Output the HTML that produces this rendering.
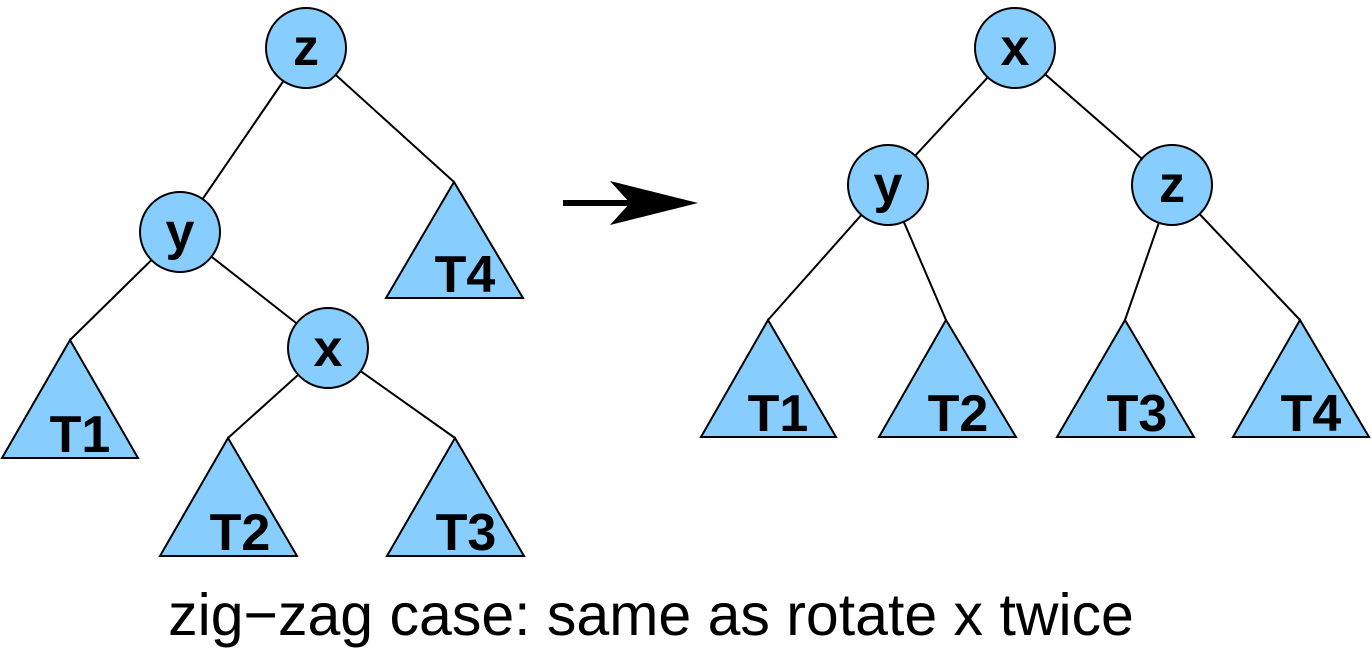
<!DOCTYPE html>
<html><head><meta charset="utf-8"><style>
html,body{margin:0;padding:0;background:#fff;}
svg{display:block;}
text{font-family:"Liberation Sans",sans-serif;}
</style></head><body>
<svg width="1372" height="656" viewBox="0 0 1372 656">
<g stroke="#000" stroke-width="2" fill="none">
<line x1="306" y1="48" x2="180" y2="232"/>
<line x1="306" y1="48" x2="454" y2="182"/>
<line x1="180" y1="232" x2="70" y2="340"/>
<line x1="180" y1="232" x2="328" y2="348"/>
<line x1="328" y1="348" x2="228" y2="438"/>
<line x1="328" y1="348" x2="455" y2="438"/>
<line x1="1015" y1="48" x2="888" y2="185"/>
<line x1="1015" y1="48" x2="1172" y2="185"/>
<line x1="888" y1="185" x2="768" y2="320"/>
<line x1="888" y1="185" x2="946" y2="320"/>
<line x1="1172" y1="185" x2="1125" y2="320"/>
<line x1="1172" y1="185" x2="1300" y2="320"/>
</g>
<g fill="#87CEFF" stroke="#000" stroke-width="2">
<circle cx="306" cy="48" r="40"/>
<circle cx="180" cy="232" r="40"/>
<circle cx="328" cy="348" r="40"/>
<circle cx="1015" cy="48" r="40"/>
<circle cx="888" cy="185" r="40"/>
<circle cx="1172" cy="185" r="40"/>
<polygon points="454,182 386,298 523,298"/>
<polygon points="70,340 2,458 138,458"/>
<polygon points="228,438 160,556 297,556"/>
<polygon points="455,438 387,556 524,556"/>
<polygon points="768,320 701,437 836,437"/>
<polygon points="946,320 879,437 1016,437"/>
<polygon points="1125,320 1057,437 1194,437"/>
<polygon points="1300,320 1233,437 1369,437"/>
</g>
<g font-weight="bold" font-size="52" text-anchor="middle" fill="#000">
<text x="306" y="65">z</text>
<text x="180" y="249">y</text>
<text x="328" y="366">x</text>
<text x="1015" y="65">x</text>
<text x="888" y="202">y</text>
<text x="1172" y="202">z</text>
<text x="465" y="292">T4</text>
<text x="80" y="452">T1</text>
<text x="240" y="550">T2</text>
<text x="466" y="550">T3</text>
<text x="778" y="431">T1</text>
<text x="958" y="431">T2</text>
<text x="1137" y="431">T3</text>
<text x="1311" y="431">T4</text>
</g>
<line x1="563" y1="203" x2="650" y2="203" stroke="#000" stroke-width="6"/>
<polygon points="698,203 610,181 630,203 610,225" fill="#000"/>
<text x="651" y="635" font-size="59" text-anchor="middle" fill="#000">zig−zag case: same as rotate x twice</text>
</svg>
</body></html>
